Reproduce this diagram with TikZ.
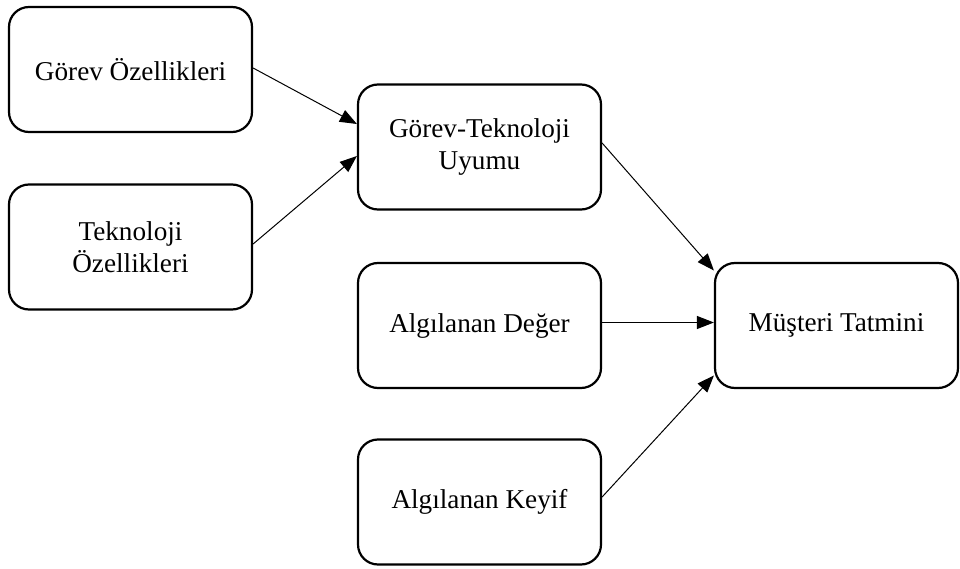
\documentclass[tikz,border=0pt]{standalone}
\usepackage{fontspec}
\setmainfont{Liberation Serif}
\usetikzlibrary{arrows.meta,calc}
\begin{document}
\begin{tikzpicture}[x=1pt,y=-1pt,
  box/.style={draw,line width=2.2pt,rounded corners=20pt,minimum width=243pt,minimum height=125pt,align=center,inner sep=0pt,font=\fontsize{27.2}{32.5}\selectfont},
  conn/.style={line width=1pt,-{Triangle[length=17pt,width=13pt]}}]
\useasboundingbox (0,0) rectangle (960,569);
\node[box] (go) at (130.5,69.5) {Görev Özellikleri};
\node[box] (to) at (130.5,247) {Teknoloji\\Özellikleri};
\node[box] (gtu) at (479.5,147) {Görev-Teknoloji\\Uyumu};
\node[box] (ad) at (479.5,325.5) {Algılanan Değer};
\node[box] (ak) at (479.5,502) {Algılanan Keyif};
\node[box] (mt) at (836.5,325.5) {Müşteri Tatmini};
\draw[conn] ($(go.east)+(0,-1.5)$) -- ($(gtu.west)+(0,-23)$);
\draw[conn] ($(to.east)+(0,-3)$) -- ($(gtu.west)+(0,9)$);
\draw[conn] ($(gtu.east)+(0,-4)$) -- ($(mt.west)+(0,-55)$);
\draw[conn] ($(ad.east)+(0,-3)$) -- ($(mt.west)+(0,-3)$);
\draw[conn] ($(ak.east)+(0,-5)$) -- ($(mt.west)+(0,50)$);
\end{tikzpicture}
\end{document}
